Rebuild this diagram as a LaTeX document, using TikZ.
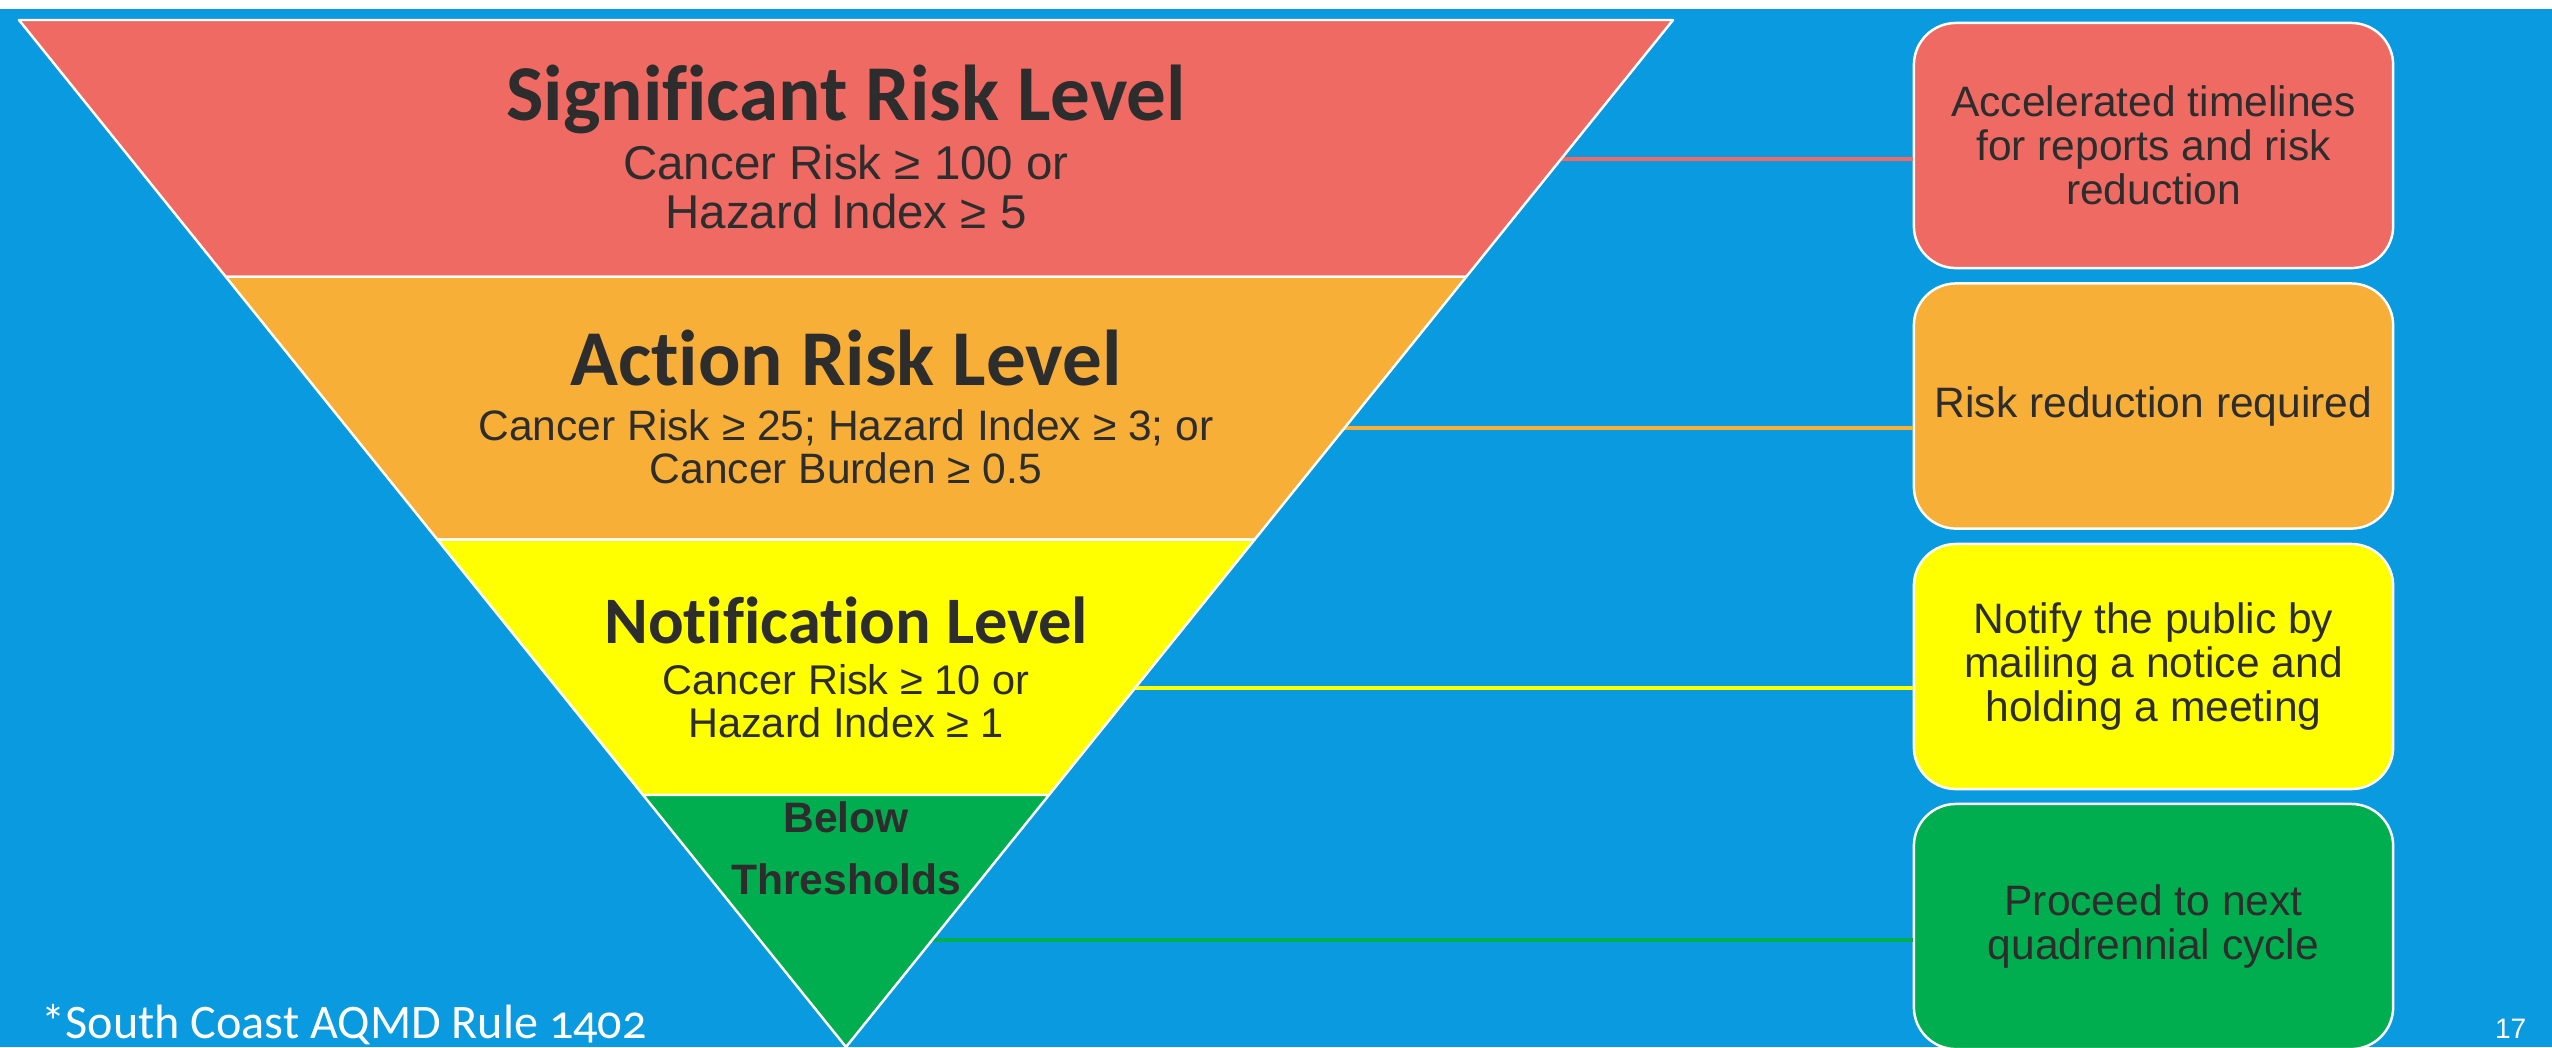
\documentclass[tikz,border=0pt]{standalone}
\usepackage{fontspec}
\setmainfont{Liberation Sans}
\newfontfamily\calibri[Ligatures=NoCommon]{Carlito}
\newfontfamily\calibrinum[Numbers=OldStyle]{Carlito}
\usetikzlibrary{calc}
\definecolor{bgblue}{HTML}{0A9ADF}
\definecolor{lvred}{HTML}{F06A64}
\definecolor{lvorange}{HTML}{F8AF37}
\definecolor{lvyellow}{HTML}{FFFF00}
\definecolor{lvgreen}{HTML}{00AE4F}
\definecolor{txtgray}{HTML}{2D2D2D}
\newcommand{\band}[3]{\filldraw[fill=#3, draw=white, line width=0.7pt, line join=round] ($(tl)!#1!(apex)$) -- ($(tr)!#1!(apex)$) -- ($(tr)!#2!(apex)$) -- ($(tl)!#2!(apex)$) -- cycle;}
\newcommand{\link}[2]{\coordinate (edge#1) at ($(tr)!#2!(apex)$); \draw[lv#1, line width=1.15pt] (edge#1) -- (edge#1 -| act#1.west);}
\tikzset{
  actbox/.style={rectangle, rounded corners=0.42cm, draw=white, line width=0.7pt, minimum width=4.79cm, minimum height=2.45cm, align=center, text=txtgray, font=\fontsize{12.1}{12.52}\selectfont},
  lvtitle/.style={anchor=base, inner sep=0pt, text=txtgray, font=\calibri\bfseries\fontsize{22.5}{27}\selectfont},
  lvsub/.style={anchor=base, inner sep=0pt, align=center, text=txtgray, font=\fontsize{12.1}{12.23}\selectfont}
}
\begin{document}
\begin{tikzpicture}[x=0.01cm, y=-0.01cm]
    \useasboundingbox (0,0) rectangle (2552,1047);
    \fill[white] (0,0) rectangle (2552,9);
    \fill[bgblue] (0,9) rectangle (2552,1047);
    % triangle corners
    \coordinate (tl) at (19,20);
    \coordinate (tr) at (1673,20);
    \coordinate (apex) at (846,1047);
    % action boxes
    \node[actbox, fill=lvred] (actred) at (2153.5,145.5) {Accelerated timelines\\for reports and risk\\reduction};
    \node[actbox, fill=lvorange] (actorange) at (2153.5,406) {Risk reduction required};
    \node[actbox, fill=lvyellow] (actyellow) at (2153.5,666.5) {Notify the public by\\mailing a notice and\\holding a meeting};
    \node[actbox, fill=lvgreen] (actgreen) at (2153.5,926.5) {Proceed to next\\quadrennial cycle};
    % links
    \link{red}{0.1353}
    \link{orange}{0.3973}
    \link{yellow}{0.6504}
    \link{green}{0.8958}
    % bands
    \band{0}{0.25}{lvred}
    \band{0.25}{0.506}{lvorange}
    \band{0.506}{0.7546}{lvyellow}
    \band{0.7546}{1}{lvgreen}
    % band 1 (base = last line)
    \node[lvtitle] (titlered) at (846,120) {Significant Risk Level};
    \node[lvsub, font=\fontsize{13.5}{13.66}\selectfont] (subred) at (846,228) {Cancer Risk ≥ 100 or\\Hazard Index ≥ 5};
    % band 2
    \node[lvtitle] (titleorange) at (846,385) {Action Risk Level};
    \node[lvsub] (suborange) at (846,483) {Cancer Risk ≥ 25; Hazard Index ≥ 3; or\\Cancer Burden ≥ 0.5};
    % band 3
    \node[lvtitle, font=\calibri\bfseries\fontsize{18.9}{22}\selectfont] (titleyellow) at (846,643) {Notification Level};
    \node[lvsub, font=\fontsize{11.8}{12.23}\selectfont] (subyellow) at (846,737) {Cancer Risk ≥ 10 or\\Hazard Index ≥ 1};
    % band 4
    \node[lvsub, font=\bfseries\fontsize{12.1}{17.36}\selectfont] (titlegreen) at (846,894) {Below\\Thresholds};
    % footer
    \node[anchor=base west, inner sep=0pt, text=white, font=\calibrinum\fontsize{13.7}{16}\selectfont] (rule) at (41,1038) {*South Coast AQMD Rule 1402};
    \node[anchor=base east, inner sep=0pt, text=white, font=\fontsize{8}{10}\selectfont] (pagenum) at (2527,1038) {17};
\end{tikzpicture}
\end{document}
